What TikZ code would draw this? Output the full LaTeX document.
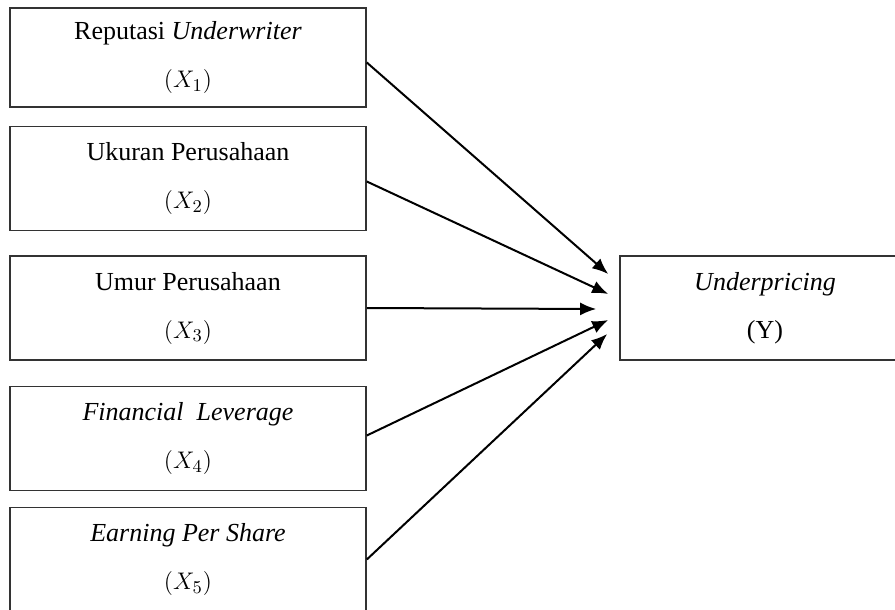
\documentclass[tikz,border=0pt]{standalone}
\usepackage{fontspec}
\setmainfont{Liberation Serif}
\usetikzlibrary{positioning,calc,arrows.meta}
\tikzset{
  var/.style ={draw=black!80,line width=.8pt,minimum width=178pt,minimum height=52pt,
               align=center,inner sep=0pt,font=\fontsize{13}{15}\selectfont},
  arr/.style ={-{Latex[length=8pt,width=6.5pt]},line width=1pt},
}

\begin{document}
\begin{tikzpicture}[x=0.5pt,y=-0.5pt]
\useasboundingbox (0,0) rectangle (895,610);
\clip (0,0) rectangle (895,610);

% ===================== VARIABEL X ===================================
\node[var,minimum height=49.5pt] (x1) at (188,57.5)  {Reputasi \textit{Underwriter}\\[9pt] $(X_1)$};
\node[var] (x2) at (188,178.5) {Ukuran Perusahaan\\[9pt] $(X_2)$};
\node[var] (x3) at (188,308)   {Umur Perusahaan\\[9pt] $(X_3)$};
\node[var] (x4) at (188,438.5) {\textit{Financial~ Leverage}\\[9pt] $(X_4)$};
\node[var] (x5) at (188,559.5) {\textit{Earning Per Share}\\[9pt] $(X_5)$};

% ===================== VARIABEL Y ===================================
\node[var,minimum width=145pt] (y) at (765,308) {\textit{Underpricing}\\[9pt] (Y)};

% ujung panah (sedikit sebelum kotak Y)
\coordinate (t1) at ($(y.west)+(-11,-34)$);
\coordinate (t2) at ($(y.west)+(-11,-14)$);
\coordinate (t3) at ($(y.west)+(-23,1)$);
\coordinate (t4) at ($(y.west)+(-11,12)$);
\coordinate (t5) at ($(y.west)+(-12,26)$);

% ===================== PANAH ========================================
\draw[arr] ($(x1.east)+(0,5)$) -- (t1);
\draw[arr] ($(x2.east)+(0,3)$) -- (t2);
\draw[arr] (x3.east) -- (t3);
\draw[arr] ($(x4.east)+(0,-3)$) -- (t4);
\draw[arr] (x5.east) -- (t5);

\end{tikzpicture}
\end{document}
